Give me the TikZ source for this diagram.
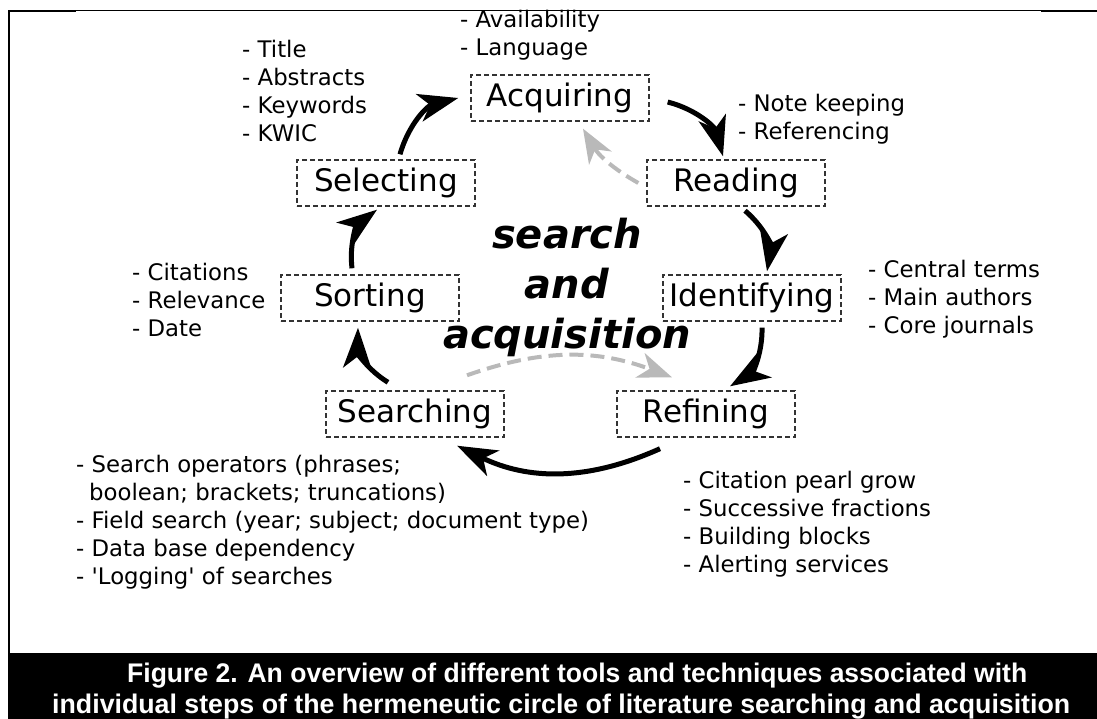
\documentclass[tikz,border=0pt]{standalone}
\usepackage{fontspec}
\usepackage{graphicx}
\setmainfont{DejaVu Sans}
\newfontfamily\capfont{Liberation Sans}
\newfontfamily\hubfont{DejaVu Sans Bold Oblique}
\usetikzlibrary{arrows.meta}
\begin{document}
\begin{tikzpicture}[x=1pt,y=-1pt,
  stepbox/.style={draw=black!80, dash pattern=on 5pt off 3pt, line width=1.4pt,
    minimum width=178pt, minimum height=46pt, inner sep=0pt,
    font=\fontsize{31}{36}\selectfont},
  note/.style={anchor=north west, align=left, inner sep=0pt,
    font=\fontsize{22.8}{28}\selectfont},
  flow/.style={line width=5pt, -{Stealth[length=40pt,width=28pt,inset=11pt]}},
  back/.style={line width=4pt, draw=gray!55, dash pattern=on 14pt off 7pt,
    -{Stealth[length=34pt,width=26pt,inset=10pt,fill=gray!55]}},
  captext/.style={anchor=base west, inner sep=0pt, text=white,
    font={\fontsize{24}{28}\capfont\bfseries}},
]
\useasboundingbox (0,0) rectangle (1097,719);
% frame and caption band
\fill (8,10) rectangle (10,653);
\fill (8,10) rectangle (76,12.3);
\fill (76,10) rectangle (1041,11.2);
\fill (1041,10.5) rectangle (1097,12.5);
\fill (8,653) rectangle (1097,719);
\node[captext] (cap1) at (127,682) {\resizebox{900pt}{19.5pt}{Figure 2. An overview of different tools and techniques associated with}};
\node[captext] (cap2) at (52,713) {\resizebox{1018pt}{19.5pt}{individual steps of the hermeneutic circle of literature searching and acquisition}};

% steps
\node[stepbox] (acq)    at (560,98)  {Acquiring};
\node[stepbox] (read)   at (736,183) {Reading};
\node[stepbox] (sel)    at (386,183) {Selecting};
\node[stepbox] (sort)   at (370,298) {Sorting};
\node[stepbox] (ident)  at (752,298) {Identifying};
\node[stepbox] (search) at (415,414) {Searching};
\node[stepbox] (ref)    at (706,414) {Refining};

% centre text
\node[align=center, inner sep=0pt, anchor=north, font={\fontsize{40}{50}\hubfont}] (hub) at (567,218) {search\\and\\acquisition};

% notes
\node[note] (nacq) at (460,9.7) {- Availability\\- Language};
\node[note] (nsel) at (242,39.7) {- Title\\- Abstracts\\- Keywords\\- KWIC};
\node[note] (nread) at (738,93.7) {- Note keeping\\- Referencing};
\node[note] (nsort) at (132,262.7) {- Citations\\- Relevance\\- Date};
\node[note] (nident) at (868,259.7) {- Central terms\\- Main authors\\- Core journals};
\node[note] (nsearch) at (76,454.7) {- Search operators (phrases;\\\hspace*{13pt}boolean; brackets; truncations)\\- Field search (year; subject; document type)\\- Data base dependency\\- \textquotesingle Logging\textquotesingle{} of searches};
\node[note] (nref) at (683,470.7) {- Citation pearl grow\\- Successive fractions\\- Building blocks\\- Alerting services};

% cycle arrows
\draw[flow] ([xshift=14pt,yshift=5pt]sel.north) to[bend left=30] ([xshift=-12pt]acq.west);
\draw[flow] ([xshift=18pt,yshift=-4pt]acq.east) to[bend left=30] ([xshift=-13pt,yshift=3pt]read.north);
\draw[flow] ([xshift=9pt,yshift=-4pt]read.south) to[bend left=30] ([xshift=15pt,yshift=3pt]ident.north);
\draw[flow] ([xshift=10pt,yshift=-6pt]ident.south) to[bend left=30] ([xshift=24pt,yshift=4pt]ref.north);
\draw[flow] ([xshift=-46pt,yshift=-11pt]ref.south) to[bend left=25] ([xshift=42pt,yshift=-8pt]search.south);
\draw[flow] ([xshift=-27pt,yshift=8pt]search.north) to[bend left=30] ([xshift=-12pt,yshift=-6pt]sort.south);
\draw[flow] ([xshift=-18pt,yshift=6pt]sort.north) to[bend left=30] ([xshift=-9pt,yshift=-3pt]sel.south);

% backward / shortcut arrows
\draw[back] ([xshift=-8pt]read.west) to[bend left=15] ([xshift=23pt,yshift=-7pt]acq.south);
\draw[back] ([xshift=52pt,yshift=15pt]search.north) to[bend left=20] ([xshift=-34pt,yshift=13pt]ref.north);
\end{tikzpicture}
\end{document}
